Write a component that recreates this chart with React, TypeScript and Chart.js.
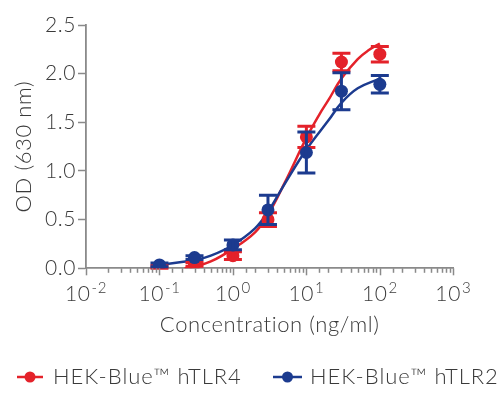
import React, { useEffect, useRef } from "react";
import { Chart, registerables } from "chart.js";

Chart.register(...registerables);

// ---- Data ----
const concentrations = [0.1, 0.3, 1, 3, 10, 30, 100];
const tlr4Mean = [0.01, 0.04, 0.13, 0.5, 1.35, 2.12, 2.2];
const tlr4Err = [0.02, 0.02, 0.04, 0.07, 0.11, 0.09, 0.08];
const tlr2Mean = [0.035, 0.11, 0.24, 0.6, 1.19, 1.82, 1.89];
const tlr2Err = [0.02, 0.02, 0.05, 0.15, 0.21, 0.19, 0.09];

// fitted curves
const tlr4FitX = [0.22, 0.3, 0.5, 1, 2, 3, 5, 10, 15, 20, 30, 50, 70, 100];
const tlr4FitY = [0.0, 0.02, 0.07, 0.2, 0.37, 0.55, 0.87, 1.34, 1.58, 1.73, 1.95, 2.15, 2.24, 2.31];
const tlr2FitX = [0.1, 0.2, 0.3, 0.5, 1, 2, 3, 5, 10, 20, 30, 50, 100];
const tlr2FitY = [0.035, 0.065, 0.085, 0.13, 0.24, 0.41, 0.58, 0.86, 1.22, 1.52, 1.7, 1.85, 1.95];

const decadeExponents = [-2, -1, 0, 1, 2, 3];
const yTickValues = [0, 0.5, 1, 1.5, 2, 2.5];

const seriesNames = ["HEK-Blue\u2122 hTLR4", "HEK-Blue\u2122 hTLR2"];
const RED = "#e4222a";
const BLUE = "#1c3b8f";
const AXIS = "#8a8a8a";
const TEXT = "#3a3a3a";
const FONT = "Lato";

const toXY = (xs: number[], ys: number[]) => xs.map((x, i) => ({ x, y: ys[i] }));

const spacingPlugin = {
  id: "letterSpacing",
  beforeDraw(chart: any) {
    chart.ctx.save();
    chart.ctx.letterSpacing = "0.6px";
  },
  afterDraw(chart: any) {
    chart.ctx.restore();
  },
};

const errorBarPlugin = {
  id: "errorBars",
  afterDatasetDraw(chart: any, args: any) {
    const ds = chart.data.datasets[args.index];
    if (!ds.errors) return;
    const { ctx, scales } = chart;
    const xs = scales.x;
    const ys = scales.y;
    ctx.save();
    ctx.strokeStyle = ds.borderColor;
    ctx.lineWidth = 3;
    ctx.lineCap = "butt";
    ds.data.forEach((p: any, i: number) => {
      const e = ds.errors[i];
      const px = xs.getPixelForValue(p.x);
      const top = ys.getPixelForValue(p.y + e);
      const bot = ys.getPixelForValue(Math.max(0, p.y - e));
      ctx.beginPath();
      ctx.moveTo(px, top);
      ctx.lineTo(px, bot);
      ctx.moveTo(px - 9, top);
      ctx.lineTo(px + 9, top);
      ctx.moveTo(px - 9, bot);
      ctx.lineTo(px + 9, bot);
      ctx.stroke();
    });
    ctx.restore();
  },
};

const xAxisPlugin = {
  id: "xAxisDecor",
  afterDraw(chart: any) {
    const { ctx, scales } = chart;
    const xs = scales.x;
    const y0 = chart.chartArea.bottom;
    ctx.save();
    ctx.strokeStyle = AXIS;
    ctx.lineWidth = 1.5;
    xs.ticks.forEach((t: any) => {
      const lg = Math.log10(t.value);
      const major = Math.abs(lg - Math.round(lg)) < 1e-9;
      const px = Math.round(xs.getPixelForValue(t.value)) + 0.5;
      ctx.beginPath();
      ctx.moveTo(px, y0);
      ctx.lineTo(px, y0 + (major ? 7 : 4.5));
      ctx.stroke();
    });
    ctx.fillStyle = TEXT;
    ctx.textBaseline = "alphabetic";
    ctx.textAlign = "left";
    ctx.letterSpacing = "0.6px";
    decadeExponents.forEach((k) => {
      const px = xs.getPixelForValue(Math.pow(10, k));
      const base = "10";
      const exp = k < 0 ? "-" + Math.abs(k) : String(k);
      ctx.font = `300 21px ${FONT}`;
      const wb = ctx.measureText(base).width;
      ctx.font = `300 15px ${FONT}`;
      const we = ctx.measureText(exp).width;
      const total = wb + 1 + we;
      const sx = px - total / 2;
      ctx.font = `300 21px ${FONT}`;
      ctx.fillText(base, sx, 301);
      ctx.font = `300 15px ${FONT}`;
      ctx.fillText(exp, sx + wb + 1, 293);
    });
    ctx.restore();
  },
};

const legendPlugin = {
  id: "customLegend",
  afterDraw(chart: any) {
    const { ctx } = chart;
    const items = [
      { color: RED, x0: 17, x1: 43, tx: 53, label: seriesNames[0] },
      { color: BLUE, x0: 273, x1: 302, tx: 310, label: seriesNames[1] },
    ];
    const baseline = 384.3;
    const cy = 377;
    ctx.save();
    items.forEach((it) => {
      ctx.strokeStyle = it.color;
      ctx.lineWidth = 2.5;
      ctx.beginPath();
      ctx.moveTo(it.x0, cy);
      ctx.lineTo(it.x1, cy);
      ctx.stroke();
      ctx.fillStyle = it.color;
      ctx.beginPath();
      ctx.arc((it.x0 + it.x1) / 2, cy, 5.5, 0, Math.PI * 2);
      ctx.fill();
      ctx.fillStyle = TEXT;
      ctx.font = `300 22px ${FONT}`;
      ctx.letterSpacing = "1px";
      ctx.textBaseline = "alphabetic";
      ctx.textAlign = "left";
      ctx.fillText(it.label, it.tx, baseline);
    });
    ctx.restore();
  },
};

export default function App() {
  const ref = useRef<HTMLCanvasElement | null>(null);
  useEffect(() => {
    if (!ref.current) return;
    const chart = new Chart(ref.current, {
      type: "scatter",
      data: {
        datasets: [
          {
            label: seriesNames[1],
            data: toXY(concentrations, tlr2Mean),
            errors: tlr2Err,
            borderColor: BLUE,
            backgroundColor: BLUE,
            pointRadius: 6.5,
            pointBorderWidth: 0,
            showLine: false,
            order: 0,
          } as any,
          {
            label: seriesNames[0],
            data: toXY(concentrations, tlr4Mean),
            errors: tlr4Err,
            borderColor: RED,
            backgroundColor: RED,
            pointRadius: 6.5,
            pointBorderWidth: 0,
            showLine: false,
            order: 1,
          } as any,
          {
            label: "fit2",
            data: toXY(tlr2FitX, tlr2FitY),
            borderColor: BLUE,
            borderWidth: 2.5,
            pointRadius: 0,
            showLine: true,
            tension: 0.4,
            order: 2,
          } as any,
          {
            label: "fit4",
            data: toXY(tlr4FitX, tlr4FitY),
            borderColor: RED,
            borderWidth: 2.5,
            pointRadius: 0,
            showLine: true,
            tension: 0.4,
            order: 3,
          } as any,
        ],
      },
      options: {
        animation: false,
        responsive: false,
        layout: { padding: { top: 25, right: 46.7, left: 0, bottom: 0 } },
        plugins: { legend: { display: false }, tooltip: { enabled: false } },
        scales: {
          x: {
            type: "logarithmic",
            min: 0.01,
            max: 1000,
            position: "bottom",
            grid: { display: false },
            border: { display: true, color: AXIS, width: 1.8 },
            ticks: { display: false },
            title: {
              display: true,
              text: "Concentration (ng/ml)",
              color: TEXT,
              font: { family: FONT, size: 22, weight: "300", lineHeight: 1.2 },
              padding: { top: 0, bottom: 55 },
            },
            afterFit: (s: any) => {
              s.height = 393 - 268.3;
            },
          },
          y: {
            type: "linear",
            min: 0,
            max: 2.5,
            afterBuildTicks: (s: any) => {
              s.ticks = yTickValues.map((v) => ({ value: v }));
            },
            grid: {
              drawOnChartArea: false,
              drawTicks: true,
              tickLength: 8,
              color: AXIS,
              tickWidth: 1.5,
            },
            border: { display: true, color: AXIS, width: 1.8 },
            ticks: {
              padding: 2,
              color: TEXT,
              font: { family: FONT, size: 21, weight: "300" },
              callback: (v: any) => Number(v).toFixed(1),
            },
            title: {
              display: true,
              text: "OD (630 nm)",
              color: TEXT,
              font: { family: FONT, size: 22, weight: "300", lineHeight: 1.2 },
              padding: { top: 10.8, bottom: 0 },
            },
            afterFit: (s: any) => {
              s.width = 86;
            },
          },
        },
      },
      plugins: [spacingPlugin, errorBarPlugin, xAxisPlugin, legendPlugin],
    } as any);
    return () => chart.destroy();
  }, []);
  return (
    <div style={{ position: "absolute", left: 0, top: 0, width: 500, height: 393, background: "#fff" }}>
      <canvas ref={ref} width={500} height={393} style={{ width: 500, height: 393, display: "block" }} />
    </div>
  );
}
